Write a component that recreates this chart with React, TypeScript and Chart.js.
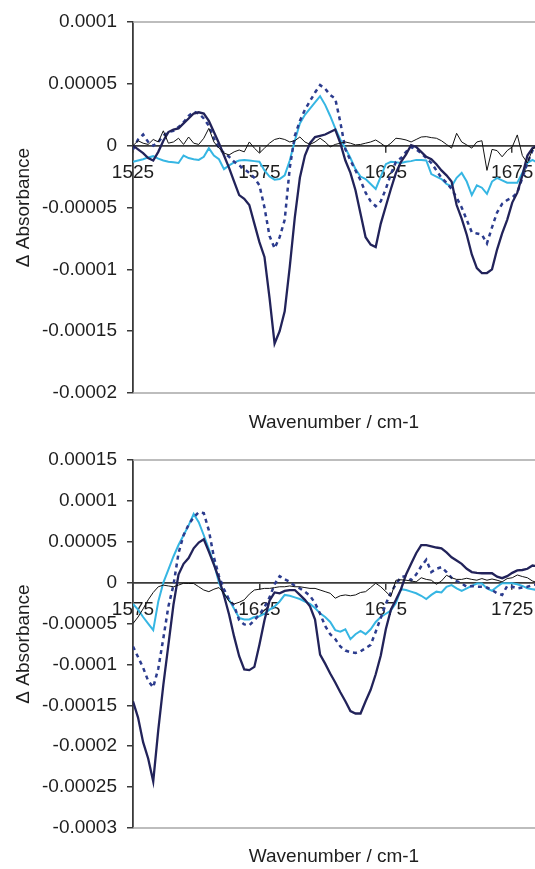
import React, { useEffect, useRef } from 'react';
import { Chart, registerables } from 'chart.js';

Chart.register(...registerables);

// All series values below are in units of 1e-5 absorbance.
const UNIT = 1e-5;

// ---------- top panel ----------
const topWavenumbers = [
  1525, 1527, 1529, 1531, 1533, 1535, 1537, 1539, 1541, 1543,
  1545, 1547, 1549, 1551, 1553, 1555, 1557, 1559, 1561, 1563,
  1565, 1567, 1569, 1571, 1573, 1575, 1577, 1579, 1581, 1583,
  1585, 1587, 1589, 1591, 1593, 1595, 1597, 1599, 1601, 1603,
  1605, 1607, 1609, 1611, 1613, 1615, 1617, 1619, 1621, 1623,
  1625, 1627, 1629, 1631, 1633, 1635, 1637, 1639, 1641, 1643,
  1645, 1647, 1649, 1651, 1653, 1655, 1657, 1659, 1661, 1663,
  1665, 1667, 1669, 1671, 1673, 1675, 1677, 1679, 1681, 1683,
  1685,
];
const topBaseline = [
  0.0, 0.4, 0.2, 0.1, 0.5, 0.3, 1.2, 0.2, 0.3, 0.6,
  0.1, 0.7, 0.2, 0.1, 0.6, 1.4, 0.3, -0.2, -0.6, -0.75,
  -0.5, -0.35, -0.5, 0.3, -0.2, -0.6, -0.2, 0.2, 0.5, 0.6,
  0.5, 0.3, 0.4, 0.7, 0.3, 0.1, 0.3, 0.6, 0.3, -0.1,
  0.1, 0.2, 0.3, 0.2, 0.06, 0.1, 0.2, 0.3, 0.46, 0.2,
  -0.1, 0.2, 0.6, 0.55, 0.46, 0.3, 0.5, 0.7, 0.73, 0.65,
  0.6, 0.4, 0.1, -0.2, 1.0, 0.3, 0.06, -0.2, 0.3, 0.4,
  -2.0, -0.3, -0.4, -0.9, -0.4, -0.1, 0.87, -0.8, -1.4, -0.3,
  0.0,
];
const topSolid = [
  0.0, -0.3, -0.6, -1.0, -1.2, -0.5, 0.4, 1.1, 1.3, 1.4,
  1.8, 2.2, 2.6, 2.7, 2.6, 2.0, 1.1, 0.2, -0.8, -1.8,
  -2.9, -4.0, -4.3, -4.8, -6.3, -7.8, -9.0, -12.3, -16.0, -15.0,
  -13.4, -9.8, -5.8, -2.6, -0.8, 0.2, 0.7, 0.8, 0.9, 1.1,
  1.3, 0.2, -1.2, -2.2, -3.6, -5.5, -7.4, -8.0, -8.2, -6.3,
  -4.9, -3.5, -2.2, -1.3, -0.7, 0.05, -0.1, -0.5, -0.9, -1.1,
  -1.5, -2.0, -2.4, -2.9, -4.8, -5.9, -7.2, -8.8, -9.9, -10.3,
  -10.3, -10.0, -8.4, -7.1, -6.0, -4.6, -3.8, -2.4, -0.8, -0.2,
  0.0,
];
const topDashed = [
  -0.3, 0.5, 0.9, 0.3, 0.0, 0.3, 0.8, 1.1, 1.2, 1.5,
  1.9, 2.4, 2.75, 2.6, 2.2, 1.6, 0.6, -0.2, -0.6, -0.9,
  -1.3, -1.6, -1.9, -2.2, -2.6, -3.2, -5.0, -7.3, -8.3, -7.4,
  -6.0, -1.8, 0.8, 2.0, 2.9, 3.6, 4.3, 4.9, 4.6, 4.1,
  3.8, 1.9, -0.3, -1.2, -2.0, -2.8, -3.8, -4.5, -4.9, -4.5,
  -3.5, -2.3, -1.3, -1.0, -0.5, -0.1, -0.3, -0.6, -1.0, -1.4,
  -2.0, -2.6, -3.0, -3.5, -4.2, -5.0, -6.0, -7.0, -7.1, -7.2,
  -7.9, -6.6, -5.4, -4.7, -4.4, -4.2, -3.8, -2.6, -1.4, -0.4,
  0.0,
];
const topLight = [
  -1.3, -1.2, -1.1, -0.95, -0.85, -1.05, -1.2, -1.3, -1.35, -1.4,
  -0.8, -1.0, -1.1, -1.15, -0.9, -0.2, -0.8, -1.1, -1.9, -1.6,
  -1.35, -1.2, -1.15, -1.2, -1.25, -1.3, -2.0, -2.5, -2.75, -2.7,
  -2.4, -1.2, 0.4, 1.8, 2.5, 3.0, 3.5, 4.0, 3.3, 2.4,
  1.4, 0.5, -0.2, -1.0, -1.9, -2.5, -2.7, -3.1, -3.5, -2.5,
  -1.5, -1.3, -1.35, -1.4, -1.3, -1.25, -1.15, -1.15, -1.2, -2.3,
  -2.5, -2.7, -3.1, -3.3, -2.6, -2.2, -2.9, -4.0, -3.2, -3.4,
  -3.9, -2.9, -2.6, -2.8, -3.0, -3.0, -3.0, -2.2, -1.4, -1.15,
  -1.4,
];
const topXTickValues = [1525, 1575, 1625, 1675];
const topXTickLabels = ['1525', '1575', '1625', '1675'];
const topYTickValues = [-0.0002, -0.00015, -0.0001, -0.00005, 0, 0.00005, 0.0001];
const topYTickLabels = ['-0.0002', '-0.00015', '-0.0001', '-0.00005', '0', '0.00005', '0.0001'];

// ---------- bottom panel ----------
const bottomWavenumbers = [
  1575, 1577, 1579, 1581, 1583, 1585, 1587, 1589, 1591, 1593,
  1595, 1597, 1599, 1601, 1603, 1605, 1607, 1609, 1611, 1613,
  1615, 1617, 1619, 1621, 1623, 1625, 1627, 1629, 1631, 1633,
  1635, 1637, 1639, 1641, 1643, 1645, 1647, 1649, 1651, 1653,
  1655, 1657, 1659, 1661, 1663, 1665, 1667, 1669, 1671, 1673,
  1675, 1677, 1679, 1681, 1683, 1685, 1687, 1689, 1691, 1693,
  1695, 1697, 1699, 1701, 1703, 1705, 1707, 1709, 1711, 1713,
  1715, 1717, 1719, 1721, 1723, 1725, 1727, 1729, 1731, 1733,
  1735,
];
const bottomBaseline = [
  -5.0, -4.2, -3.2, -2.1, -1.2, -0.5, -0.3, -0.4, -0.5, -0.3,
  -0.07, -0.1, -0.1, -0.5, -0.9, -1.1, -0.8, -0.6, -1.3, -2.3,
  -2.6, -2.4, -2.1, -1.4, -0.9, -0.8, -0.7, -0.7, -0.6, -0.5,
  -0.5, -0.4, -0.5, -0.5, -0.6, -0.7, -0.7, -0.9, -1.1, -1.3,
  -1.9, -1.6, -1.5, -1.6, -1.5, -1.2, -1.1, -0.6, -0.07, -0.5,
  -1.1, -1.7, 0.3, 0.35, 0.3, 0.2, 0.1, 0.6, 0.4, 0.3,
  -0.2, 0.2, 0.9, 0.6, 0.4, 0.4, 0.54, 0.4, 0.3, 0.5,
  0.3, 0.45, 0.3, 0.1, 0.5, 0.6, 0.94, 0.75, 0.6, 0.2,
  0.0,
];
const bottomSolid = [
  -14.5, -16.5, -19.5, -21.5, -24.3, -18.0, -12.5, -7.6, -2.7, 1.0,
  2.3, 3.0, 4.2, 4.9, 5.3, 3.8, 2.2, 0.5, -1.6, -3.9,
  -6.6, -9.0, -10.6, -10.7, -10.3, -7.6, -4.6, -2.2, -1.2, -1.3,
  -1.0, -0.9, -0.9, -1.5, -2.1, -2.9, -4.5, -8.8, -9.9, -11.1,
  -12.2, -13.4, -14.5, -15.7, -16.0, -16.0, -14.5, -13.1, -11.2, -8.9,
  -5.7, -3.3, -2.1, -0.8, 1.0, 2.3, 3.6, 4.6, 4.6, 4.45,
  4.3, 4.2, 3.7, 3.1, 2.7, 2.3, 1.7, 1.3, 1.2, 1.15,
  1.15, 1.15, 0.73, 0.55, 0.8, 1.2, 1.5, 1.55, 1.7, 2.1,
  2.0,
];
const bottomDashed = [
  -7.8, -9.1, -10.4, -12.0, -12.8, -10.5, -6.8, -2.9, -0.3, 3.6,
  5.8, 7.1, 8.0, 8.6, 8.5, 6.4, 3.1, 0.8, -0.8, -2.1,
  -2.8, -4.6, -5.1, -5.2, -4.6, -3.9, -3.0, -1.8, -0.2, 0.8,
  0.4, 0.1, -0.4, -0.7, -1.1, -1.6, -2.5, -3.8, -5.3, -6.3,
  -6.9, -7.8, -8.3, -8.5, -8.6, -8.4, -8.0, -7.6, -6.0, -4.3,
  -2.6, -1.2, -0.2, 0.7, 0.8, 0.3, 1.0, 2.0, 2.8, 1.3,
  1.7, 1.9, 1.3, 0.6, 0.2, -0.1, -0.5, -0.4, -0.5, -0.5,
  -0.6, -0.9, -1.3, -1.5, -0.4, -0.5, -0.7, -0.6, -0.5, -0.3,
  -0.2,
];
const bottomLight = [
  -2.6, -3.3, -4.2, -5.0, -5.8, -2.3, 0.0, 1.6, 3.2, 4.6,
  5.8, 7.0, 8.4, 7.4, 5.8, 4.1, 2.4, 0.0, -1.4, -2.1,
  -3.2, -4.3, -4.5, -4.5, -4.2, -4.1, -3.8, -3.3, -2.9, -2.3,
  -1.5, -1.6, -1.8, -2.0, -2.3, -2.6, -3.1, -3.75, -4.2, -4.8,
  -5.8, -6.0, -5.7, -6.9, -6.3, -5.9, -6.3, -5.7, -4.8, -4.2,
  -3.8, -3.4, -2.5, -0.8, -0.9, -1.1, -1.3, -1.6, -2.0, -1.5,
  -1.1, -1.2, -0.5, -0.3, -0.7, -1.0, -0.7, -0.4, -0.1, -0.1,
  -0.7, -1.0, -0.5, -0.07, -0.07, -0.07, -0.2, -0.4, -0.7, -0.8,
  -0.9,
];
const bottomXTickValues = [1575, 1625, 1675, 1725];
const bottomXTickLabels = ['1575', '1625', '1675', '1725'];
const bottomYTickValues = [-0.0003, -0.00025, -0.0002, -0.00015, -0.0001, -0.00005, 0, 0.00005, 0.0001, 0.00015];
const bottomYTickLabels = ['-0.0003', '-0.00025', '-0.0002', '-0.00015', '-0.0001', '-0.00005', '0', '0.00005', '0.0001', '0.00015'];

const X_TITLE = 'Wavenumber / cm-1';
const Y_TITLE = 'Δ Absorbance';

const FONT = { family: '"Liberation Sans", Arial, sans-serif', size: 19 };
const TEXT_COLOR = '#1e1e1e';
const AXIS_COLOR = '#3a3a3a';

const frameLines = {
  id: 'frameLines',
  beforeDatasetsDraw(chart: any) {
    const { ctx, chartArea } = chart;
    const { left, right, top, bottom } = chartArea;
    ctx.save();
    ctx.strokeStyle = '#a8a8a8';
    ctx.lineWidth = 1.5;
    ctx.beginPath();
    ctx.moveTo(left, top);
    ctx.lineTo(right, top);
    ctx.moveTo(left, bottom);
    ctx.lineTo(right, bottom);
    ctx.stroke();
    ctx.restore();
  },
};

type PanelSpec = {
  wavenumbers: number[];
  baseline: number[];
  solid: number[];
  dashed: number[];
  light: number[];
  xMin: number;
  xMax: number;
  yMin: number;
  yMax: number;
  xTickValues: number[];
  xTickLabels: string[];
  yTickValues: number[];
  yTickLabels: string[];
  plotTop: number;
  bottomSpace: number;
};

function buildConfig(p: PanelSpec): any {
  const pts = (vals: number[]) => vals.map((v, i) => ({ x: p.wavenumbers[i], y: v * UNIT }));
  const common = { pointRadius: 0, pointHoverRadius: 0, tension: 0, fill: false };
  return {
    type: 'line',
    data: {
      datasets: [
        { ...common, label: 'reference', data: pts(p.baseline), borderColor: '#111111', borderWidth: 1 },
        { ...common, label: 'solid', data: pts(p.solid), borderColor: '#22235a', borderWidth: 2.3 },
        { ...common, label: 'dashed', data: pts(p.dashed), borderColor: '#2c3c8e', borderWidth: 2.5, borderDash: [4, 4] },
        { ...common, label: 'light', data: pts(p.light), borderColor: '#36b6e3', borderWidth: 2 },
      ],
    },
    options: {
      responsive: false,
      animation: false,
      events: [],
      layout: { padding: { top: p.plotTop, left: 0, right: 0, bottom: 0 } },
      plugins: { legend: { display: false }, tooltip: { enabled: false }, title: { display: false } },
      scales: {
        x: {
          type: 'linear',
          min: p.xMin,
          max: p.xMax,
          position: { y: 0 },
          border: { display: true, color: AXIS_COLOR, width: 1.8 },
          grid: { display: true, drawOnChartArea: false, drawTicks: true, tickLength: 6, color: AXIS_COLOR, lineWidth: 1.5 },
          ticks: {
            padding: 10,
            font: FONT,
            color: TEXT_COLOR,
            maxRotation: 0,
            autoSkip: false,
            callback: (_v: any, i: number) => p.xTickLabels[i],
          },
          afterBuildTicks: (s: any) => {
            s.ticks = p.xTickValues.map((v) => ({ value: v }));
          },
          afterFit: (s: any) => {
            s.paddingLeft = 0;
            s.paddingRight = 0;
          },
        },
        x2: {
          type: 'linear',
          axis: 'x',
          position: 'bottom',
          min: p.xMin,
          max: p.xMax,
          grid: { display: false },
          border: { display: false },
          ticks: { display: false },
          title: { display: true, text: X_TITLE, font: FONT, color: TEXT_COLOR, padding: { top: 0, bottom: 1 } },
          afterFit: (s: any) => {
            s.height = p.bottomSpace;
            s.paddingLeft = 0;
            s.paddingRight = 0;
          },
        },
        y: {
          type: 'linear',
          min: p.yMin,
          max: p.yMax,
          position: 'left',
          border: { display: true, color: AXIS_COLOR, width: 1.8 },
          grid: { display: true, drawOnChartArea: false, drawTicks: true, tickLength: 6, color: AXIS_COLOR, lineWidth: 1.5 },
          ticks: {
            padding: 10,
            font: FONT,
            color: TEXT_COLOR,
            autoSkip: false,
            callback: (_v: any, i: number) => p.yTickLabels[i],
          },
          afterBuildTicks: (s: any) => {
            s.ticks = p.yTickValues.map((v) => ({ value: v }));
          },
          title: { display: true, text: Y_TITLE, font: FONT, color: TEXT_COLOR, padding: { top: 12, bottom: 0 } },
          afterFit: (s: any) => {
            s.width = 133;
          },
        },
      },
    },
    plugins: [frameLines],
  };
}

function SpectrumPanel({ spec, height }: { spec: PanelSpec; height: number }) {
  const ref = useRef<HTMLCanvasElement>(null);
  useEffect(() => {
    if (!ref.current) return;
    const chart = new Chart(ref.current, buildConfig(spec));
    return () => chart.destroy();
  }, [spec]);
  return <canvas ref={ref} width={535} height={height} style={{ display: 'block', width: 535, height }} />;
}

const topSpec: PanelSpec = {
  wavenumbers: topWavenumbers,
  baseline: topBaseline,
  solid: topSolid,
  dashed: topDashed,
  light: topLight,
  xMin: 1525,
  xMax: 1684,
  yMin: -0.0002,
  yMax: 0.0001,
  xTickValues: topXTickValues,
  xTickLabels: topXTickLabels,
  yTickValues: topYTickValues,
  yTickLabels: topYTickLabels,
  plotTop: 22,
  bottomSpace: 42,
};

const bottomSpec: PanelSpec = {
  wavenumbers: bottomWavenumbers,
  baseline: bottomBaseline,
  solid: bottomSolid,
  dashed: bottomDashed,
  light: bottomLight,
  xMin: 1575,
  xMax: 1734,
  yMin: -0.0003,
  yMax: 0.00015,
  xTickValues: bottomXTickValues,
  xTickLabels: bottomXTickLabels,
  yTickValues: bottomYTickValues,
  yTickLabels: bottomYTickLabels,
  plotTop: 25,
  bottomSpace: 41,
};

export default function App() {
  return (
    <div style={{ position: 'absolute', left: 0, top: 0, width: 535, height: 869, background: '#ffffff', overflow: 'hidden' }}>
      <SpectrumPanel spec={topSpec} height={435} />
      <SpectrumPanel spec={bottomSpec} height={434} />
    </div>
  );
}
